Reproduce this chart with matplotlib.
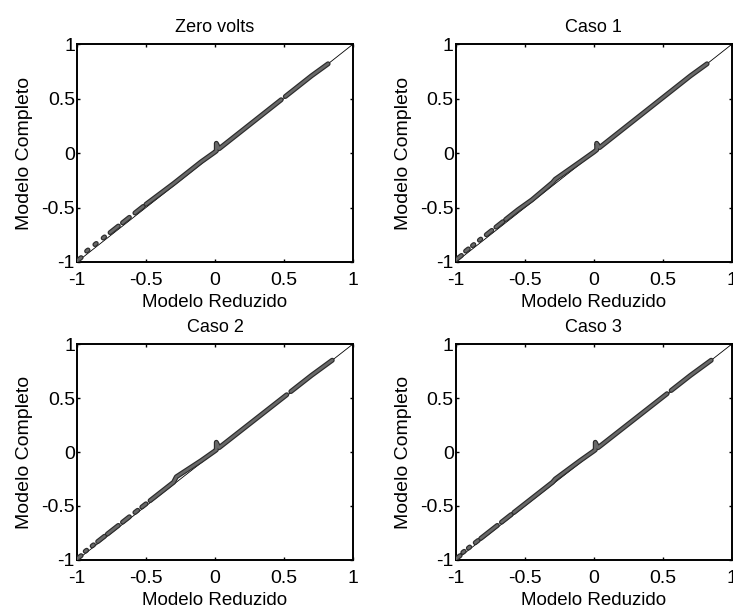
import matplotlib
matplotlib.use("Agg")
import matplotlib.pyplot as plt
import matplotlib.patheffects as pe
import numpy as np

nan = np.nan

# tick values / labels shared by every panel
ticks = [-1, -0.5, 0, 0.5, 1]
tick_labels = ["-1", "-0.5", "0", "0.5", "1"]
identity = [-1, 1]

titles = ["Zero volts", "Caso 1", "Caso 2", "Caso 3"]

# Modelo Reduzido (x) vs Modelo Completo (y); nan breaks the trace
zero_x = [-1.00, -0.97, nan, -0.93, -0.92, nan, -0.87, -0.86, nan, -0.81, -0.80, nan,
          -0.76, -0.70, nan, -0.67, -0.62, nan, -0.58, -0.52, nan, -0.50, -0.30, -0.27,
          -0.10, 0.00, 0.01, 0.01, 0.03, 0.25, 0.48, nan, 0.51, 0.70, 0.82]
zero_y = [-0.99, -0.96, nan, -0.90, -0.89, nan, -0.84, -0.83, nan, -0.78, -0.77, nan,
          -0.73, -0.67, nan, -0.64, -0.59, nan, -0.55, -0.49, nan, -0.47, -0.28, -0.25,
          -0.08, 0.01, 0.02, 0.09, 0.04, 0.26, 0.49, nan, 0.52, 0.71, 0.82]

caso1_x = [-1.00, -0.96, nan, -0.93, -0.91, nan, -0.88, -0.87, nan, -0.83, -0.82, nan,
           -0.78, -0.74, nan, -0.71, -0.66, nan, -0.64, -0.55, -0.45, -0.30, -0.28,
           -0.10, 0.00, 0.02, 0.02, 0.04, 0.30, 0.50, 0.70, 0.82]
caso1_y = [-0.98, -0.94, nan, -0.90, -0.88, nan, -0.85, -0.84, nan, -0.80, -0.79, nan,
           -0.75, -0.71, nan, -0.68, -0.63, nan, -0.61, -0.52, -0.43, -0.27, -0.24,
           -0.08, 0.01, 0.03, 0.09, 0.05, 0.31, 0.51, 0.71, 0.82]

caso2_x = [-1.00, -0.97, nan, -0.94, -0.93, nan, -0.89, -0.88, nan, -0.85, -0.80, nan,
           -0.78, -0.70, nan, -0.67, -0.62, nan, -0.58, -0.56, nan, -0.53, -0.50, nan,
           -0.47, -0.30, -0.28, -0.10, 0.00, 0.01, 0.01, 0.03, 0.30, 0.52, nan, 0.55,
           0.70, 0.85]
caso2_y = [-0.99, -0.96, nan, -0.92, -0.91, nan, -0.87, -0.86, nan, -0.83, -0.78, nan,
           -0.76, -0.68, nan, -0.65, -0.60, nan, -0.56, -0.54, nan, -0.51, -0.48, nan,
           -0.45, -0.28, -0.23, -0.08, 0.01, 0.02, 0.09, 0.04, 0.31, 0.53, nan, 0.56,
           0.71, 0.85]

caso3_x = [-1.00, -0.97, nan, -0.95, -0.94, nan, -0.91, -0.90, nan, -0.86, -0.84, nan,
           -0.82, -0.70, nan, -0.67, -0.60, nan, -0.58, -0.52, -0.45, -0.30, -0.28,
           -0.10, 0.00, 0.01, 0.01, 0.03, 0.30, 0.53, nan, 0.56, 0.70, 0.85]
caso3_y = [-0.99, -0.96, nan, -0.93, -0.92, nan, -0.89, -0.88, nan, -0.84, -0.82, nan,
           -0.80, -0.68, nan, -0.65, -0.58, nan, -0.56, -0.50, -0.43, -0.28, -0.25,
           -0.08, 0.01, 0.02, 0.09, 0.04, 0.31, 0.54, nan, 0.57, 0.71, 0.85]

series = [(zero_x, zero_y), (caso1_x, caso1_y), (caso2_x, caso2_y), (caso3_x, caso3_y)]

plt.rcParams["font.family"] = ["Liberation Sans", "DejaVu Sans"]
plt.rcParams["font.size"] = 13.5

fig = plt.figure(figsize=(7.33, 6.10), dpi=100)
positions = [
    [0.105, 0.5705, 0.3765, 0.357],
    [0.622, 0.5705, 0.3765, 0.357],
    [0.105, 0.082, 0.3765, 0.354],
    [0.622, 0.082, 0.3765, 0.354],
]

for pos, title, (xs, ys) in zip(positions, titles, series):
    ax = fig.add_axes(pos)
    ax.plot(identity, identity, color="black", linewidth=0.6, zorder=2)
    ax.plot(xs, ys, color="#686868", linewidth=1.9, solid_capstyle="round", zorder=3,
            path_effects=[pe.Stroke(linewidth=3.6, foreground="#2c2c2c"), pe.Normal()])
    ax.set_xlim(-1, 1)
    ax.set_ylim(-1, 1)
    ax.set_xticks(ticks)
    ax.set_xticklabels(tick_labels)
    ax.set_yticks(ticks)
    ax.set_yticklabels(tick_labels)
    ax.tick_params(direction="in", length=2.5, width=1, top=True, right=True,
                   labelsize=14)
    ax.tick_params(axis="x", pad=7.5)
    ax.tick_params(axis="y", pad=1.5)
    for spine in ax.spines.values():
        spine.set_linewidth(1.4)
    ax.set_title(title, fontsize=13, pad=9)
    ax.set_xlabel("Modelo Reduzido", fontsize=13.5, labelpad=3)
    ax.set_ylabel("Modelo Completo", fontsize=14, labelpad=6)

fig.savefig("out.png", dpi=100)
